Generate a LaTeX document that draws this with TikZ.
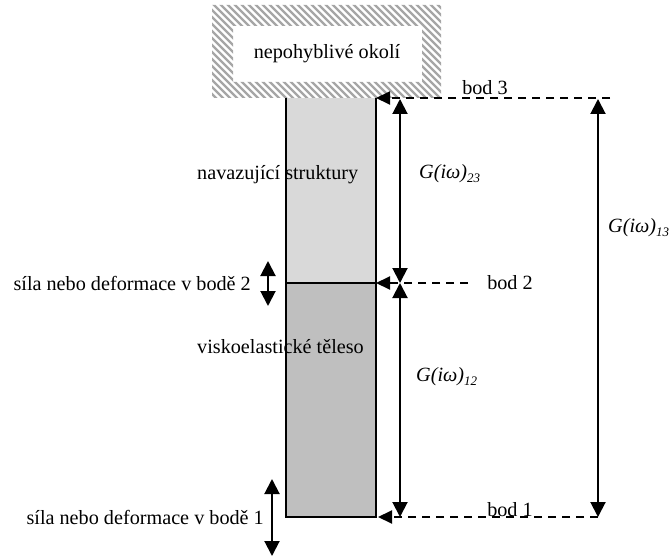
\documentclass[tikz,border=0pt]{standalone}
\usepackage{fontspec}
\setmainfont{Liberation Serif}
\usetikzlibrary{arrows.meta}
\tikzset{
  lbl/.style={inner sep=0pt, font=\fontsize{20.2}{24}\selectfont},
  glbl/.style={inner sep=0pt, font=\fontsize{20.2}{24}\selectfont\itshape},
  dim/.style={line width=2pt, {Triangle[length=15pt,width=15pt]}-{Triangle[length=15pt,width=15pt]}},
  ptr/.style={line width=2pt, dash pattern=on 8pt off 6pt, -{Triangle[length=14pt,width=13pt]}},
  blk/.style={draw=black, line width=1.6pt},
}
\newcommand{\Gsub}[1]{\textit{G(iω)}\raisebox{-0.35ex}{\fontsize{13}{13}\selectfont\itshape #1}}
\begin{document}
\begin{tikzpicture}[x=1pt,y=-1pt]
\useasboundingbox (0,0) rectangle (669,559);
% hatched fixed surroundings
\begin{scope}[even odd rule]
  \clip (212,5) rectangle (441,98) (233,26) rectangle (422,82);
  \foreach \k in {-120,-113,...,460} {
    \draw[black!35, line width=2.2pt] (\k,0) -- ++(110,110);
  }
\end{scope}
\node[lbl] (env) at (327,54) {nepohyblivé okolí};
% column: connected structure and viscoelastic body
\fill[black!15] (286,98) rectangle (376,283);
\fill[black!25] (286,283) rectangle (376,517);
\coordinate (c3l) at (286,98);
\coordinate (c3r) at (376,98);
\coordinate (c2l) at (286,283);
\coordinate (c2r) at (376,283);
\coordinate (c1l) at (286,517);
\coordinate (c1r) at (376,517);
\draw[blk] (c3l) -- (c1l) -- (c1r) -- (c3r);
\draw[blk] (c2l) -- (c2r);
\node[lbl, anchor=west] (struct) at (197,175) {navazující struktury};
\node[lbl, anchor=west] (body) at (197,347) {viskoelastické těleso};
% points
\coordinate (p3) at (610,98);
\coordinate (p2) at (468,283);
\coordinate (p1) at (598,517);
\draw[ptr] (p3) -- (c3r);
\draw[ptr] (p2) -- (c2r);
\draw[ptr] (p1) -- ([xshift=2pt]c1r);
\node[lbl, anchor=base] (b3) at (485,95) {bod 3};
\node[lbl, anchor=base] (b2) at (510,289) {bod 2};
\node[lbl, anchor=base] (b1) at (510,516) {bod 1};
% transfer functions
\coordinate (g23t) at (400,99);
\coordinate (g2m) at (400,283);
\coordinate (g12b) at (400,517);
\coordinate (g13t) at (598,99);
\coordinate (g13b) at (598,517);
\draw[dim] (g23t) -- (g2m);
\draw[dim] (g2m) -- (g12b);
\draw[dim] (g13t) -- (g13b);
\node[glbl, anchor=west] (G23) at (419,174) {\Gsub{23}};
\node[glbl, anchor=west] (G13) at (608,228) {\Gsub{13}};
\node[glbl, anchor=west] (G12) at (416,377) {\Gsub{12}};
% excitation at points 2 and 1
\coordinate (f2t) at (268,261);
\coordinate (f2b) at (268,306);
\coordinate (f1t) at (272,479);
\coordinate (f1b) at (272,556);
\draw[dim] (f2t) -- (f2b);
\draw[dim] (f1t) -- (f1b);
\node[lbl, anchor=east] (s2) at (251,283) {síla nebo deformace v bodě 2};
\node[lbl, anchor=east] (s1) at (264,517) {síla nebo deformace v bodě 1};
\end{tikzpicture}
\end{document}
